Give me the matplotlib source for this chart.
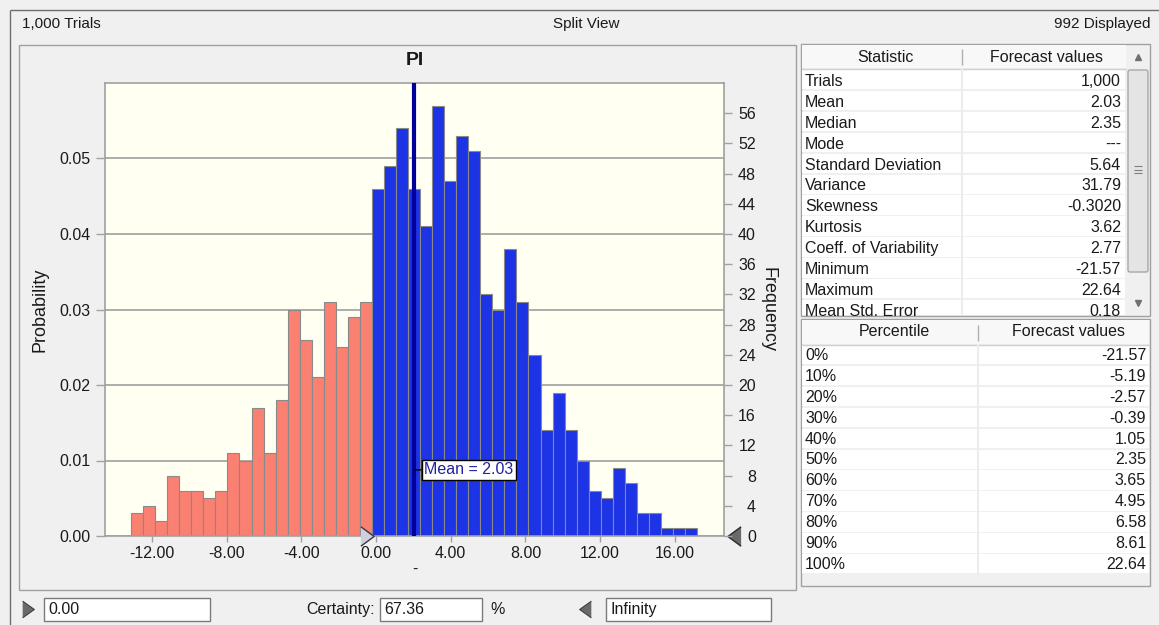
import matplotlib
matplotlib.use('Agg')
import matplotlib.pyplot as plt
import matplotlib.transforms as mtransforms
from matplotlib.patches import Rectangle, FancyBboxPatch
import numpy as np

# ---------------- data ----------------
trials = 1000
displayed = 992
bin_start = -13.12
bin_width = 0.645
counts = [3, 4, 2, 8, 6, 6, 5, 6, 11, 10, 17, 11, 18, 30, 26, 21, 31, 25, 29, 31,
          46, 49, 54, 46, 41, 57, 47, 53, 51, 32, 30, 38, 31, 24, 14, 19, 14, 10,
          6, 5, 9, 7, 3, 3, 1, 1, 1]
mean_value = 2.03
certainty_lower = 0.00
certainty_upper_text = "Infinity"
certainty_pct = 67.36
x_ticks = [-12, -8, -4, 0, 4, 8, 12, 16]
prob_ticks = [0.00, 0.01, 0.02, 0.03, 0.04, 0.05]
freq_ticks = [0, 4, 8, 12, 16, 20, 24, 28, 32, 36, 40, 44, 48, 52, 56]

stat_names = ["Trials", "Mean", "Median", "Mode", "Standard Deviation", "Variance",
              "Skewness", "Kurtosis", "Coeff. of Variability", "Minimum", "Maximum",
              "Mean Std. Error"]
stat_values = ["1,000", "2.03", "2.35", "---", "5.64", "31.79", "-0.3020", "3.62",
               "2.77", "-21.57", "22.64", "0.18"]
pct_labels = ["0%", "10%", "20%", "30%", "40%", "50%", "60%", "70%", "80%", "90%", "100%"]
pct_values = ["-21.57", "-5.19", "-2.57", "-0.39", "1.05", "2.35", "3.65", "4.95",
              "6.58", "8.61", "22.64"]

# ---------------- style ----------------
W, H = 1159, 625
BG = '#f0f0f0'
RED = '#fa8072'
BLUE = '#1c33e6'
GRID = '#a0a0a0'
TXT = '#1a1a1a'
FONT = 'Liberation Sans'
FS = 11.5
plt.rcParams['font.family'] = [FONT, 'DejaVu Sans']

fig = plt.figure(figsize=(W / 100, H / 100), dpi=100, facecolor=BG)

ov = fig.add_axes([0, 0, 1, 1], zorder=0)
ov.set_xlim(0, W)
ov.set_ylim(H, 0)
ov.axis('off')


def rect(x0, y0, x1, y1, **kw):
    p = Rectangle((x0, y0), x1 - x0, y1 - y0, **kw)
    ov.add_patch(p)
    return p


def line(xs, ys, **kw):
    ov.plot(xs, ys, solid_capstyle='butt', **kw)


# outer frame + header
line([10, W], [10, 10], color='#6e6e6e', lw=1)
line([10, 10], [10, H], color='#6e6e6e', lw=1)
hdr_font = ['Liberation Sans Narrow', FONT]
ov.text(22, 24, f"{trials:,} Trials", ha='left', va='center', fontsize=11, family=hdr_font, color=TXT)
ov.text(586, 24, "Split View", ha='center', va='center', fontsize=11, family=hdr_font, color=TXT)
ov.text(1150, 24, f"{displayed} Displayed", ha='right', va='center', fontsize=11, family=hdr_font, color=TXT)

# chart panel border
rect(19, 45, 796, 590, fill=False, ec='#a0a0a0', lw=1)

# ---------------- statistics table ----------------
row_h = 20.9
rect(801, 44, 1150, 316, fc=BG, ec='#a0a0a0', lw=1)
rect(802, 45, 1126, 68, fc='#f8f8f8', ec='none')
line([802, 1126], [68.5, 68.5], color='#d0d0d0', lw=1)
line([962, 962], [49, 65], color='#b0b0b0', lw=1)
ov.text(885, 57, "Statistic", ha='center', va='center', fontsize=FS, color=TXT)
ov.text(1047, 57, "Forecast values", ha='center', va='center', fontsize=FS, color=TXT)
clip1 = Rectangle((802, 69), 1126 - 802, 315 - 69, transform=ov.transData)
for i, (nm, val) in enumerate(zip(stat_names, stat_values)):
    y0 = 70 + i * row_h
    c = rect(802, y0, 1125, y0 + row_h - 1.5, fc='white', ec='none')
    c.set_clip_path(clip1)
    t1 = ov.text(805, y0 + row_h / 2 + 1, nm, ha='left', va='center', fontsize=FS, color=TXT)
    t2 = ov.text(1121, y0 + row_h / 2 + 1, val, ha='right', va='center', fontsize=FS, color=TXT)
    t1.set_clip_path(clip1)
    t2.set_clip_path(clip1)
line([962, 962], [69, 315], color='#ececec', lw=1.5)
# scrollbar
ov.plot([1138], [57], marker='^', ms=4.5, color='#707070')
ov.plot([1138], [303], marker='v', ms=4.5, color='#707070')
ov.add_patch(FancyBboxPatch((1128, 70), 20, 202, boxstyle='round,pad=0,rounding_size=2',
                            fc='#e4e4e4', ec='#a8a8a8', lw=1))
for gy in (166, 169.5, 173):
    line([1134, 1142], [gy, gy], color='#808080', lw=0.8)

# ---------------- percentile table ----------------
rect(801, 319, 1150, 586, fc=BG, ec='#a0a0a0', lw=1)
rect(802, 320, 1149, 344, fc='#f8f8f8', ec='none')
line([802, 1149], [344.5, 344.5], color='#d0d0d0', lw=1)
line([978, 978], [325, 341], color='#b0b0b0', lw=1)
ov.text(894, 332, "Percentile", ha='center', va='center', fontsize=FS, color=TXT)
ov.text(1068, 332, "Forecast values", ha='center', va='center', fontsize=FS, color=TXT)
for i, (nm, val) in enumerate(zip(pct_labels, pct_values)):
    y0 = 345 + i * row_h
    rect(802, y0, 1149, y0 + row_h - 1.5, fc='white', ec='none')
    ov.text(805, y0 + row_h / 2, nm, ha='left', va='center', fontsize=FS, color=TXT)
    ov.text(1146, y0 + row_h / 2, val, ha='right', va='center', fontsize=FS, color=TXT)
line([978, 978], [345, 345 + len(pct_labels) * row_h], color='#ececec', lw=1.5)

# ---------------- bottom controls ----------------
tri_r = [(-0.7, -1), (0.7, 0), (-0.7, 1)]
tri_l = [(0.7, -1), (-0.7, 0), (0.7, 1)]
ov.plot([28], [609], marker=tri_r, ms=12, mfc='#6a6a6a', mec='#404040', mew=0.8)
rect(44, 598, 210, 621, fc='white', ec='#7a7a7a', lw=1)
ov.text(48, 609.5, f"{certainty_lower:.2f}", ha='left', va='center', fontsize=FS, color=TXT)
ov.text(375, 609.5, "Certainty:", ha='right', va='center', fontsize=FS, color=TXT)
rect(380, 598, 482, 621, fc='white', ec='#7a7a7a', lw=1)
ov.text(384, 609.5, f"{certainty_pct:.2f}", ha='left', va='center', fontsize=FS, color=TXT)
ov.text(490, 609.5, "%", ha='left', va='center', fontsize=FS, color=TXT)
ov.plot([585], [609], marker=tri_l, ms=12, mfc='#6a6a6a', mec='#404040', mew=0.8)
rect(606, 598, 771, 621, fc='white', ec='#7a7a7a', lw=1)
ov.text(610, 609.5, certainty_upper_text, ha='left', va='center', fontsize=FS, color=TXT)

# ---------------- histogram ----------------
L, T, R, B = 105, 83, 724, 536
ax = fig.add_axes([L / W, 1 - B / H, (R - L) / W, (B - T) / H], zorder=2)
ax.set_facecolor('#fffff2')
counts_arr = np.array(counts)
edges = bin_start + bin_width * np.arange(len(counts))
centers = edges + bin_width / 2
colors = [RED if c < certainty_lower else BLUE for c in centers]
ax.bar(edges, counts_arr / trials, width=bin_width, align='edge', color=colors,
       edgecolor='#8a8a8a', linewidth=0.8, zorder=2)
ax.set_xlim(-14.52, 18.64)
ax.set_ylim(0, 0.06)
ax.set_axisbelow(True)
ax.set_yticks(prob_ticks)
ax.set_yticklabels([f"{v:.2f}" for v in prob_ticks])
ax.set_xticks(x_ticks)
ax.set_xticklabels([f"{v:.2f}" for v in x_ticks])
ax.yaxis.grid(True, color=GRID, lw=1.2)
ax.tick_params(axis='x', length=4, width=1, color=GRID, pad=3, labelsize=FS, labelcolor=TXT)
ax.tick_params(axis='y', length=6.5, width=1, color=GRID, pad=4, labelsize=FS, labelcolor=TXT)
for s in ax.spines.values():
    s.set_color(GRID)
    s.set_linewidth(1.2)

ax2 = ax.twinx()
ax2.patch.set_visible(False)
ax2.set_ylim(0, 0.06 * trials)
ax2.set_yticks(freq_ticks)
ax2.tick_params(axis='y', length=5.5, width=1, color=GRID, pad=17.5, labelsize=FS, labelcolor=TXT)
for lbl in ax2.get_yticklabels():
    lbl.set_ha('right')
for s in ax2.spines.values():
    s.set_visible(False)

# mean line and label
ax.axvline(mean_value, color='#00009c', lw=3, zorder=4)
ax.annotate(f"Mean = {mean_value:.2f}", xy=(mean_value, 0.146), xycoords=('data', 'axes fraction'),
            xytext=(10, 0), textcoords='offset pixels', ha='left', va='center',
            fontsize=FS, color='#2020a0',
            bbox=dict(boxstyle='square,pad=0.15', fc='white', ec='black', lw=1),
            arrowprops=dict(arrowstyle='-', color='black', lw=1, shrinkA=0, shrinkB=0),
            zorder=6)

# certainty grabbers
tri_lo = [(-0.68, -1), (0.68, 0), (-0.68, 1)]
tri_hi = [(0.68, -1), (-0.68, 0), (0.68, 1)]
ax.plot([certainty_lower], [0], marker=tri_lo, ms=14, mfc='#cfcfe0', mec='#3a3a3a', mew=1,
        clip_on=False, zorder=7,
        transform=mtransforms.offset_copy(ax.transData, fig=fig, x=-9, y=0, units='dots'))
ax.plot([1], [0], marker=tri_hi, ms=14, mfc='#6a6a6a', mec='#2a2a2a', mew=1,
        clip_on=False, zorder=7,
        transform=mtransforms.offset_copy(ax.transAxes, fig=fig, x=10, y=0, units='dots'))

# titles and labels
ax.set_title("PI", fontsize=14, fontweight='bold', pad=13, color=TXT)
ax.set_ylabel("Probability", fontsize=13, color=TXT)
ax.yaxis.set_label_coords((49 - L) / (R - L), 0.5)
ax2.set_ylabel("Frequency", fontsize=13, rotation=270, va='bottom', color=TXT)
ax2.yaxis.set_label_coords((759 - L) / (R - L), 0.5)
ax.set_xlabel("-", fontsize=FS, color=TXT)
ax.xaxis.set_label_coords(0.5, (B - 562) / (B - T))

fig.savefig("out.png", dpi=100, facecolor=BG)
